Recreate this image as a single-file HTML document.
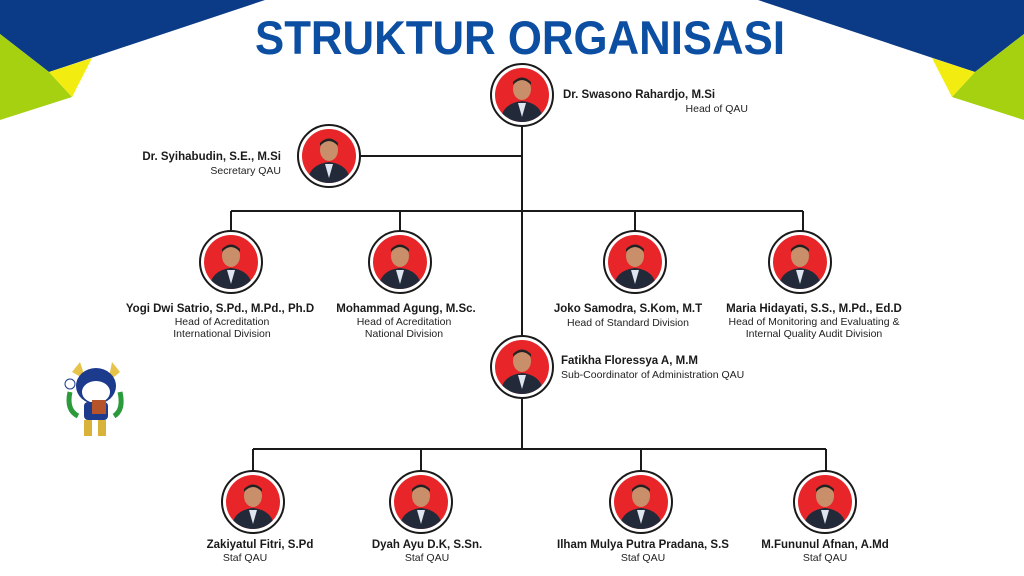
<!DOCTYPE html>
<html><head><meta charset="utf-8"><style>
html,body{margin:0;padding:0;background:#fff}
svg{display:block}
text{font-family:"Liberation Sans",Arial,sans-serif;fill:#1a1a1a}
.n{font-weight:bold;font-size:11.5px}
.r{font-size:10.5px;fill:#222}
</style></head><body>
<svg width="1024" height="576" viewBox="0 0 1024 576" xmlns="http://www.w3.org/2000/svg">
<defs>
<g id="p">
<circle r="31" fill="#fff" stroke="#1a1a1a" stroke-width="2"/>
<circle r="27" fill="#e8262a"/>
<clipPath id="c"><circle r="27"/></clipPath>
<g clip-path="url(#c)">
<path d="M-22 27 Q-20 8 0 6 Q20 8 22 27 Z" fill="#222a3a"/>
<path d="M-4 8 L0 22 L4 8 Z" fill="#dfe6ef"/>
<ellipse cx="0" cy="-6" rx="9" ry="11" fill="#c98e6a"/>
<path d="M-9 -10 Q0 -20 9 -10 L9 -13 Q0 -22 -9 -13Z" fill="#222"/>
</g>
</g>
</defs>
<!-- corners -->
<polygon points="0,0 265,0 49,72 0,34" fill="#0b3a86"/>
<polygon points="0,34 49,72 72,97 0,120" fill="#a6d110"/>
<polygon points="49,72 92,58 72,97" fill="#f3ec10"/>
<polygon points="1024,0 758,0 975,72 1024,34" fill="#0b3a86"/>
<polygon points="1024,34 975,72 952,97 1024,120" fill="#a6d110"/>
<polygon points="975,72 932,58 952,97" fill="#f3ec10"/>
<text x="520" y="54" text-anchor="middle" font-size="47" font-weight="bold" style="fill:#0b4ea2" textLength="530" lengthAdjust="spacingAndGlyphs">STRUKTUR ORGANISASI</text>
<!-- lines -->
<g stroke="#1a1a1a" stroke-width="2" fill="none">
<path d="M522 126 V449"/>
<path d="M360 156 H522"/>
<path d="M231 211 H803 M231 211 V231 M400 211 V231 M635 211 V231 M803 211 V231"/>
<path d="M253 449 H826 M253 449 V471 M421 449 V471 M641 449 V471 M826 449 V471"/>
</g>
<use href="#p" x="522" y="95"/>
<use href="#p" x="329" y="156"/>
<use href="#p" x="231" y="262"/>
<use href="#p" x="400" y="262"/>
<use href="#p" x="635" y="262"/>
<use href="#p" x="800" y="262"/>
<use href="#p" x="522" y="367"/>
<use href="#p" x="253" y="502"/>
<use href="#p" x="421" y="502"/>
<use href="#p" x="641" y="502"/>
<use href="#p" x="825" y="502"/>
<!-- texts -->
<text class="n" x="563" y="98">Dr. Swasono Rahardjo, M.Si</text>
<text class="r" x="748" y="112" text-anchor="end">Head of QAU</text>
<text class="n" x="281" y="160" text-anchor="end">Dr. Syihabudin, S.E., M.Si</text>
<text class="r" x="281" y="174" text-anchor="end">Secretary QAU</text>
<g text-anchor="middle">
<text class="n" x="220" y="312">Yogi Dwi Satrio, S.Pd., M.Pd., Ph.D</text>
<text class="r" x="222" y="325">Head of Acreditation</text>
<text class="r" x="222" y="337">International Division</text>
<text class="n" x="406" y="312">Mohammad Agung, M.Sc.</text>
<text class="r" x="404" y="325">Head of Acreditation</text>
<text class="r" x="404" y="337">National Division</text>
<text class="n" x="628" y="312">Joko Samodra, S.Kom, M.T</text>
<text class="r" x="628" y="326">Head of Standard Division</text>
<text class="n" x="814" y="312">Maria Hidayati, S.S., M.Pd., Ed.D</text>
<text class="r" x="814" y="325">Head of Monitoring and Evaluating &amp;</text>
<text class="r" x="814" y="337">Internal Quality Audit Division</text>
<text class="n" x="260" y="548">Zakiyatul Fitri, S.Pd</text>
<text class="r" x="245" y="561">Staf QAU</text>
<text class="n" x="427" y="548">Dyah Ayu D.K, S.Sn.</text>
<text class="r" x="427" y="561">Staf QAU</text>
<text class="n" x="643" y="548">Ilham Mulya Putra Pradana, S.S</text>
<text class="r" x="643" y="561">Staf QAU</text>
<text class="n" x="825" y="548">M.Fununul Afnan, A.Md</text>
<text class="r" x="825" y="561">Staf QAU</text>
</g>
<text class="n" x="561" y="364">Fatikha Floressya A, M.M</text>
<text class="r" x="561" y="378">Sub-Coordinator of Administration QAU</text>
<!-- mascot -->
<g>
<path d="M72 372 L80 362 L86 380Z M120 372 L112 362 L108 382Z" fill="#e8c34a"/>
<path d="M70 392 Q66 410 78 416" stroke="#2a9a3a" stroke-width="5" fill="none"/>
<path d="M120 392 Q124 410 114 416" stroke="#2a9a3a" stroke-width="5" fill="none"/>
<ellipse cx="96" cy="386" rx="20" ry="18" fill="#1c3b8c"/>
<ellipse cx="96" cy="392" rx="14" ry="11" fill="#fff"/>
<rect x="84" y="402" width="24" height="18" rx="4" fill="#1c3b8c"/>
<rect x="92" y="400" width="14" height="14" fill="#b5542a"/>
<rect x="84" y="420" width="8" height="16" fill="#d9b23a"/>
<rect x="98" y="420" width="8" height="16" fill="#d9b23a"/>
<circle cx="70" cy="384" r="5" fill="#fff" stroke="#1c3b8c"/>
</g>
</svg>
</body></html>
